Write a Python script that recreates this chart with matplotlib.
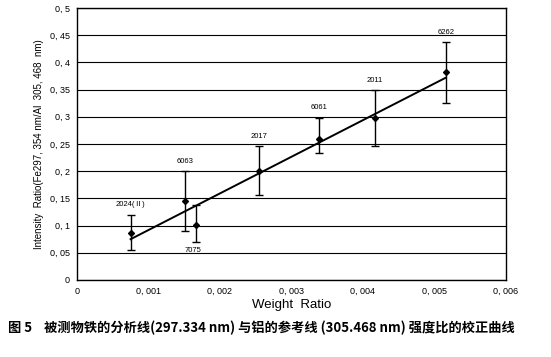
import numpy as np
import matplotlib
matplotlib.use("Agg")
import matplotlib.pyplot as plt
from matplotlib.ticker import FuncFormatter

plt.rcParams['font.family'] = ['Liberation Sans', 'Noto Sans CJK SC', 'DejaVu Sans']

# Data
alloys = ["2024(Ⅱ)", "6063", "7075", "2017", "6061", "2011", "6262"]
weight_ratio = [0.00075, 0.00151, 0.00166, 0.00255, 0.00339, 0.00417, 0.00516]
intensity_ratio = [0.087, 0.145, 0.101, 0.200, 0.259, 0.297, 0.382]
err_top = [0.120, 0.200, 0.138, 0.246, 0.298, 0.349, 0.437]
err_bottom = [0.055, 0.090, 0.069, 0.156, 0.234, 0.247, 0.326]

# calibration line end points
fit_x = [0.00075, 0.00516]
fit_y = [0.075, 0.372]

x = np.array(weight_ratio)
y = np.array(intensity_ratio)
yerr = [y - np.array(err_bottom), np.array(err_top) - y]

fig = plt.figure(figsize=(5.51, 3.57), dpi=100)
ax = fig.add_axes([0.1397, 0.2157, 0.7786, 0.7619])

ax.errorbar(x, y, yerr=yerr, fmt='D', color='black', ms=3, capsize=3,
            elinewidth=1, capthick=1)
ax.plot(fit_x, fit_y, color='black', lw=1.4)

# labels above the bars, 7075 below
for name, xi, top, bot in zip(alloys, x, err_top, err_bottom):
    if name == "7075":
        ax.text(xi - 0.00004, bot - 0.009, name, fontsize=5.5, ha='center', va='top')
    else:
        ax.text(xi, top + 0.012, name, fontsize=5.5, ha='center', va='bottom',
                family=['Liberation Sans', 'Noto Sans CJK SC'])

ax.set_xlim(0, 0.006)
ax.set_ylim(0, 0.5)
ax.set_xticks(np.arange(0, 0.0061, 0.001))
ax.set_yticks(np.arange(0, 0.501, 0.05))

def comma(v, pos):
    if abs(v) < 1e-12:
        return "0"
    s = ("%.3f" % v) if v < 0.01 else ("%.2f" % v)
    s = s.rstrip('0').rstrip('.')
    return s.replace('.', ', ')

ax.xaxis.set_major_formatter(FuncFormatter(comma))
ax.yaxis.set_major_formatter(FuncFormatter(comma))
ax.tick_params(length=0, labelsize=6.5, pad=5)
ax.grid(axis='y', color='black', lw=0.8)
ax.set_axisbelow(True)
for sp in ax.spines.values():
    sp.set_linewidth(1)

ax.set_xlabel("Weight  Ratio", fontsize=9.5, labelpad=2)
ax.set_ylabel("Intensity  Ratio(Fe297, 354 nm/Al  305, 468  nm)", fontsize=7, labelpad=4)

fig.text(0.015, 0.08, "图 5    被测物铁的分析线(297.334 nm) 与铝的参考线 (305.468 nm) 强度比的校正曲线",
         fontsize=9.5, fontweight='bold', ha='left', va='center',
         family=['Noto Sans CJK SC', 'DejaVu Sans'])

fig.savefig("out.png", dpi=100)
